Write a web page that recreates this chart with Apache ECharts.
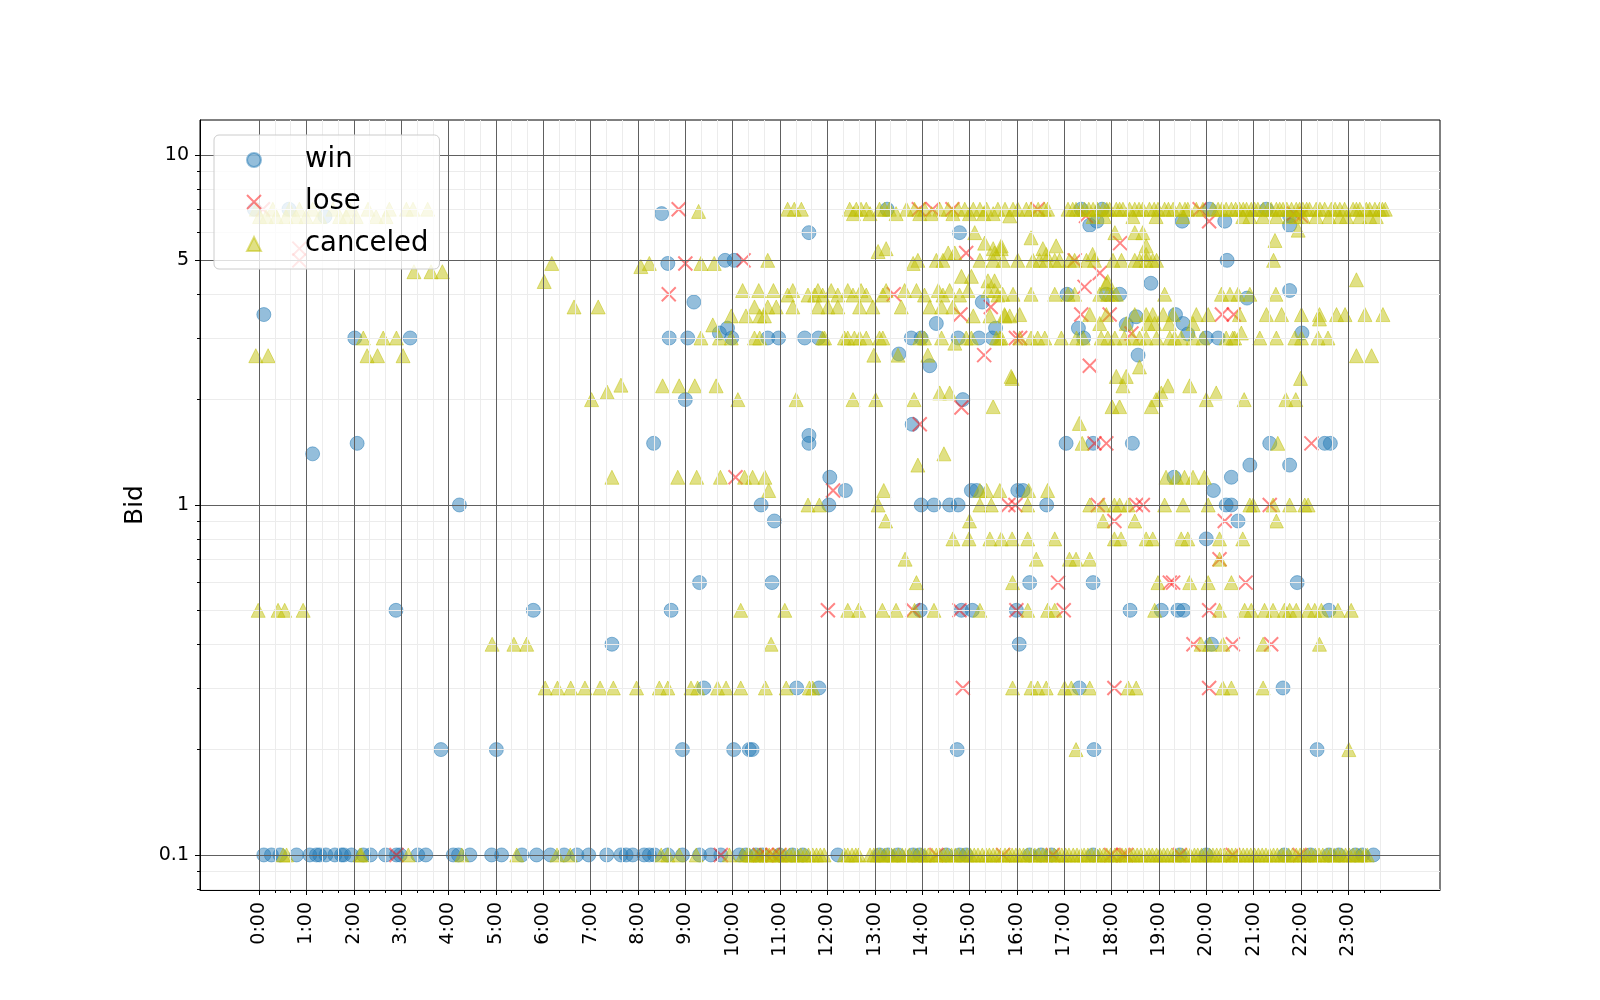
<!DOCTYPE html>
<html>
<head>
<meta charset="utf-8">
<script src="https://cdn.jsdelivr.net/npm/echarts@6/dist/echarts.min.js"></script>
<style>html,body{margin:0;padding:0;background:#fff}#chart{width:1600px;height:1000px}</style>
</head>
<body>
<div id="chart"></div>
<script>
// ---- tick definitions ----
const hourTicks = [0,1,2,3,4,5,6,7,8,9,10,11,12,13,14,15,16,17,18,19,20,21,22,23];
const hourLabels = ['0:00','1:00','2:00','3:00','4:00','5:00','6:00','7:00','8:00','9:00','10:00','11:00',
  '12:00','13:00','14:00','15:00','16:00','17:00','18:00','19:00','20:00','21:00','22:00','23:00'];
const yMajorTicks = [0.1, 1, 5, 10];
const yMinorTicks = [0.08, 0.09, 0.2, 0.3, 0.4, 0.5, 0.6, 0.7, 0.8, 0.9, 2, 3, 4, 6, 7, 8, 9];
const seriesNames = ['win', 'lose', 'canceled'];

// ---- data: [hour of day, bid] ----
const winPts = [
  [-0.1,7.0],[0.63,7.0],[1.39,6.67],[0.1,3.5],[2.02,3.0],[3.19,3.0],[1.13,1.4],[2.07,1.5],[4.23,1.0],
  [2.89,0.5],[5.79,0.5],[7.45,0.4],[3.84,0.2],[5.01,0.2],
  [8.5,6.8],[8.63,4.9],[9.18,3.8],[11.61,6.0],[14.79,6.0],[8.66,3.0],[9.05,3.0],[9.72,3.1],[9.89,3.2],
  [9.98,3.0],[9.84,5.0],[10.03,5.0],[10.74,3.0],[10.97,3.0],[11.52,3.0],[11.81,3.0],[13.77,3.0],[13.98,3.0],
  [14.76,3.0],[15.2,3.0],[15.48,3.0],[15.55,3.2],[15.27,3.8],[14.3,3.3],[13.51,2.7],[14.16,2.5],[9.0,2.0],
  [14.86,2.0],[8.33,1.5],[11.61,1.58],[11.61,1.5],[13.79,1.7],[12.05,1.2],[12.38,1.1],[15.04,1.1],[15.15,1.1],
  [13.26,7.0],[10.6,1.0],[12.03,1.0],[13.98,1.0],[14.25,1.0],[14.58,1.0],[14.76,1.0],[10.88,0.9],
  [9.3,0.6],[10.83,0.6],[8.7,0.5],[13.96,0.5],[14.83,0.5],[15.06,0.5],[15.99,0.5],[16.05,0.4],
  [9.39,0.3],[11.35,0.3],[11.82,0.3],[8.94,0.2],[10.02,0.2],[10.35,0.2],[10.41,0.2],[14.74,0.2],
  [17.36,7.0],[17.8,7.0],[17.54,6.3],[17.69,6.47],[19.49,6.47],[20.07,7.0],[20.39,6.47],[21.27,7.0],
  [21.76,6.3],[21.76,6.7],[20.44,5.0],[18.83,4.3],[21.76,4.1],[17.06,4.0],[17.89,4.0],[18.17,4.0],
  [20.86,3.9],[18.52,3.45],[19.35,3.5],[19.51,3.3],[19.61,3.08],[17.3,3.2],[17.41,3.0],[18.31,3.28],
  [20.0,3.0],[20.25,3.0],[22.02,3.1],[18.56,2.68],[17.04,1.5],[17.61,1.5],[18.44,1.5],[21.34,1.5],
  [22.5,1.5],[22.62,1.5],[20.92,1.3],[21.76,1.3],[19.32,1.2],[20.53,1.2],[20.15,1.1],[16.02,1.1],
  [16.13,1.1],[16.63,1.0],[20.42,1.0],[20.53,1.0],[20.67,0.9],[20.0,0.8],[16.27,0.6],[17.61,0.6],
  [21.92,0.6],[18.39,0.5],[19.05,0.5],[19.4,0.5],[19.52,0.5],[22.59,0.5],[20.11,0.4],[17.32,0.3],
  [21.62,0.3],[17.63,0.2],[22.34,0.2],
  [0.1,0.1],[0.26,0.1],[0.44,0.1],[0.79,0.1],[1.07,0.1],[1.21,0.1],[1.28,0.1],[1.41,0.1],[1.6,0.1],
  [1.74,0.1],[1.79,0.1],[1.95,0.1],[2.2,0.1],[2.35,0.1],[2.67,0.1],[2.9,0.1],[2.98,0.1],[3.35,0.1],
  [3.52,0.1],[4.1,0.1],[4.21,0.1],[4.45,0.1],[4.91,0.1],[5.12,0.1],[5.55,0.1],[5.86,0.1],[6.15,0.1],
  [6.44,0.1],[6.71,0.1],[6.96,0.1],[7.34,0.1],[7.64,0.1],[7.75,0.1],[7.89,0.1],[8.13,0.1],[8.24,0.1],
  [8.35,0.1],[8.63,0.1],[8.94,0.1],[9.3,0.1],[9.54,0.1],[9.75,0.1],[10.14,0.1],[10.28,0.1],[10.49,0.1],
  [10.63,0.1],[10.99,0.1],[11.26,0.1],[11.48,0.1],[12.22,0.1],[13.1,0.1],[13.28,0.1],[13.49,0.1],
  [13.81,0.1],[13.95,0.1],[14.51,0.1],[14.79,0.1],[14.93,0.1],[16.27,0.1],[16.51,0.1],[16.73,0.1],
  [17.61,0.1],[19.44,0.1],[20.0,0.1],[21.65,0.1],[22.2,0.1],[22.59,0.1],[22.8,0.1],[23.15,0.1],
  [23.3,0.1],[23.53,0.1]
];

const losePts = [
  [0.08,7.0],[0.85,5.4],[0.85,5.0],[2.9,0.1],
  [8.86,7.0],[8.65,4.0],[9.0,4.9],[10.23,5.0],[13.4,4.0],[13.93,7.0],[14.22,7.0],[14.64,7.0],[14.93,5.25],
  [14.81,3.5],[15.45,3.68],[15.31,2.68],[15.98,3.0],[16.07,3.0],[14.83,1.9],[13.95,1.7],[10.06,1.2],
  [12.12,1.1],[15.82,1.0],[12.01,0.5],[13.81,0.5],[14.79,0.5],[15.99,0.5],[14.86,0.3],
  [16.44,7.0],[17.46,6.7],[18.18,5.6],[19.86,7.0],[20.06,6.47],[17.22,5.0],[17.75,4.6],[17.43,4.2],
  [17.36,3.5],[17.96,3.5],[20.33,3.5],[20.58,3.5],[18.42,3.09],[17.54,2.5],[17.64,1.5],[17.89,1.5],
  [22.22,1.5],[17.71,1.0],[18.52,1.0],[18.66,1.0],[21.34,1.0],[21.85,6.8],[22.0,6.7],
  [15.97,1.0],[18.06,0.9],[20.39,0.9],[20.28,0.7],[16.87,0.6],[19.23,0.6],[19.3,0.6],[20.83,0.6],
  [16.99,0.5],[20.06,0.5],[19.73,0.4],[20.56,0.4],[21.37,0.4],[18.06,0.3],[20.06,0.3],
  [9.75,0.1],[10.57,0.1],[10.71,0.1],[10.85,0.1],[10.99,0.1],[14.3,0.1],[15.71,0.1],[16.76,0.1],
  [17.99,0.1],[18.24,0.1],[18.31,0.1],[19.44,0.1],[20.56,0.1],[21.97,0.1]
];

const canceledPts = [
  [-0.06,7.0],[0.29,7.0],[0.64,7.0],[0.85,7.0],[1.13,7.0],[1.56,7.0],[1.91,7.0],[2.3,7.0],[2.75,7.0],
  [3.11,7.0],[3.25,7.0],[3.56,7.0],
  [0.01,6.67],[0.15,6.67],[0.36,6.67],[0.57,6.67],[0.78,6.67],[0.99,6.67],[1.28,6.67],[1.7,6.67],
  [1.84,6.67],[2.05,6.67],[2.47,6.67],[2.68,6.67],
  [3.27,4.64],[3.63,4.64],[3.87,4.64],[6.18,4.9],[6.02,4.35],[6.65,3.68],[7.16,3.68],
  [2.2,3.0],[2.62,3.0],[2.9,3.0],[-0.07,2.67],[0.19,2.67],[2.28,2.67],[2.5,2.67],[3.04,2.67],
  [7.02,2.0],[7.35,2.1],[7.64,2.2],[7.45,1.2],
  [-0.02,0.5],[0.4,0.5],[0.54,0.5],[0.93,0.5],[4.92,0.4],[5.38,0.4],[5.65,0.4],
  [6.04,0.3],[6.3,0.3],[6.58,0.3],[6.88,0.3],[7.2,0.3],[7.48,0.3],[7.97,0.3],[8.45,0.3],[8.63,0.3],
  [9.12,0.3],[9.26,0.3],[9.68,0.3],[9.86,0.3],[10.17,0.3],[10.69,0.3],[11.13,0.3],[11.62,0.3],[11.69,0.3],
  [15.91,0.3],
  [0.51,0.1],[0.58,0.1],[2.13,0.1],[2.16,0.1],[3.15,0.1],[4.28,0.1],[5.44,0.1],[6.29,0.1],[6.57,0.1],
  [8.49,0.1],[8.63,0.1],[8.87,0.1],[9.23,0.1],[9.93,0.1],
  [9.28,6.9],[11.16,7.0],[11.3,7.0],[11.45,7.0],[12.47,7.0],[12.55,6.8],[12.61,7.0],[12.71,7.0],[12.82,7.0],
  [12.9,6.8],[13.1,7.0],[13.21,7.0],[13.31,7.0],[13.45,6.8],[13.67,7.0],[13.84,7.0],[13.95,6.8],[14.05,7.0],
  [14.2,6.8],[14.37,7.0],[14.55,7.0],[14.65,6.8],[14.76,7.0],[14.9,7.0],[15.0,6.8],[15.08,7.0],[15.22,7.0],
  [15.3,6.8],[15.36,7.0],[15.5,6.8],[15.6,7.0],[15.75,7.0],[15.85,6.7],
  [8.06,4.8],[8.24,4.9],[9.33,4.9],[9.61,4.9],[10.74,5.0],[13.07,5.3],[13.24,5.4],[13.81,4.9],[13.91,5.0],
  [14.3,5.0],[14.44,5.0],[14.55,5.25],[14.69,5.25],[15.22,5.0],[15.5,5.0],[15.53,5.25],[15.11,6.0],
  [15.32,5.6],[15.5,5.4],[15.67,5.5],[14.83,4.5],[15.04,4.5],[15.39,4.37],[15.53,4.37],
  [10.21,4.1],[10.55,4.1],[10.86,4.1],[11.27,4.1],[11.8,4.1],[12.08,4.1],[12.43,4.1],[12.71,4.1],
  [13.24,4.1],[13.63,4.1],[13.88,4.1],[14.34,4.1],[14.58,4.1],[14.97,4.1],[15.39,4.1],[15.53,4.1],
  [11.16,3.98],[11.59,3.98],[11.73,3.98],[11.9,3.98],[12.22,3.98],[12.54,3.98],[12.82,3.98],[13.17,3.98],
  [14.05,3.98],[14.44,3.98],[14.79,3.98],[15.6,3.98],[15.7,4.0],[15.92,4.0],
  [10.46,3.68],[10.74,3.68],[10.92,3.68],[11.27,3.68],[11.8,3.68],[12.01,3.68],[12.22,3.68],[12.68,3.68],
  [12.96,3.68],[13.56,3.68],[14.16,3.68],[14.41,3.68],[14.65,3.68],
  [9.97,3.47],[10.28,3.47],[10.57,3.47],[10.67,3.47],[15.08,3.47],[15.43,3.47],[15.75,3.47],[15.85,3.47],
  [9.58,3.27],
  [9.33,3.0],[9.72,3.0],[9.97,3.0],[10.46,3.0],[10.57,3.0],[11.9,3.0],[11.94,3.0],[12.36,3.0],[12.43,3.0],
  [12.57,3.0],[12.68,3.0],[12.82,3.0],[13.1,3.0],[13.17,3.0],[13.95,3.0],[14.05,3.0],[14.41,3.0],
  [14.93,3.0],[15.04,3.0],[15.57,3.0],[15.64,3.0],[14.69,2.9],
  [12.98,2.68],[13.49,2.68],[14.12,2.68],
  [8.52,2.19],[8.87,2.19],[9.2,2.19],[9.65,2.19],[15.9,2.3],[14.37,2.09],[14.58,2.09],
  [10.11,2.0],[11.34,2.0],[12.54,2.0],[13.02,2.0],[13.83,2.0],[15.5,1.91],[14.46,1.4],[13.91,1.3],
  [8.84,1.2],[9.24,1.2],[9.74,1.2],[10.25,1.2],[10.42,1.2],[10.68,1.2],[10.76,1.1],
  [13.19,1.1],[15.22,1.1],[15.36,1.1],[15.64,1.1],
  [11.59,1.0],[11.83,1.0],[13.07,1.0],[13.23,0.9],[15.22,1.0],[15.46,1.0],[15.0,0.9],
  [14.65,0.8],[14.99,0.8],[15.43,0.8],[15.67,0.8],[15.9,0.8],[13.64,0.7],[13.88,0.6],[15.91,0.6],
  [10.17,0.5],[11.1,0.5],[12.43,0.5],[12.66,0.5],[13.16,0.5],[13.45,0.5],[13.84,0.5],[14.25,0.5],
  [15.22,0.5],[10.81,0.4],
  [15.92,7.0],[16.02,7.0],[16.2,7.0],[16.3,7.0],[16.45,7.0],[16.58,7.0],[16.65,7.0],[17.08,7.0],
  [17.18,7.0],[17.25,7.0],[17.35,7.0],[17.43,7.0],[17.52,7.0],[17.61,7.0],[17.7,7.0],[17.82,7.0],
  [17.9,7.0],[17.96,7.0],[18.1,7.0],[18.17,7.0],[18.24,7.0],[18.38,7.0],[18.49,7.0],[18.58,7.0],
  [18.66,7.0],[18.8,7.0],[18.9,7.0],[18.98,7.0],[19.12,7.0],[19.2,7.0],[19.3,7.0],[19.44,7.0],
  [19.55,7.0],[19.61,7.0],[19.79,7.0],[19.93,7.0],[20.14,7.0],[20.25,7.0],[20.33,7.0],[20.42,7.0],
  [20.53,7.0],[20.62,7.0],[20.7,7.0],[20.78,7.0],[20.85,7.0],[20.95,7.0],[21.02,7.0],[21.09,7.0],
  [21.2,7.0],[21.3,7.0],[21.37,7.0],[21.48,7.0],[21.55,7.0],[21.62,7.0],[21.7,7.0],[21.8,7.0],
  [21.9,7.0],[21.97,7.0],[22.04,7.0],[22.12,7.0],[22.18,7.0],[22.32,7.0],[22.4,7.0],[22.5,7.0],
  [22.64,7.0],[22.72,7.0],[22.82,7.0],[22.92,7.0],[23.1,7.0],[23.17,7.0],[23.24,7.0],[23.38,7.0],
  [23.45,7.0],[23.56,7.0],[23.66,7.0],[23.72,7.0],[23.78,7.0],
  [17.61,6.67],[17.85,6.67],[18.45,6.67],[18.94,6.67],[19.51,6.67],[20.77,6.67],[20.92,6.67],[21.2,6.67],
  [21.48,6.67],[21.76,6.67],[21.9,6.67],[22.04,6.67],[22.32,6.67],[22.59,6.67],[22.82,6.67],[22.96,6.67],
  [23.24,6.67],[23.45,6.67],[23.59,6.67],
  [16.3,5.8],[16.55,5.4],[16.83,5.5],[18.07,6.0],[18.49,6.0],[18.66,6.0],[18.73,5.5],[21.45,5.7],
  [21.94,6.1],[15.67,5.4],
  [15.71,5.0],[16.02,5.0],[16.34,5.0],[16.48,5.0],[16.62,5.0],[16.8,5.0],[16.9,5.0],[17.11,5.0],
  [17.22,5.0],[17.47,5.0],[17.64,5.0],[18.03,5.0],[18.21,5.0],[18.49,5.0],[18.59,5.0],[18.73,5.0],
  [18.87,5.0],[18.95,5.0],[21.42,5.0],[16.62,5.2],[17.6,5.2],[18.73,5.2],
  [17.92,4.35],[23.17,4.4],
  [16.3,4.0],[16.8,4.0],[17.08,4.0],[17.22,4.0],[17.75,4.0],[17.92,4.0],[18.0,4.0],[18.1,4.0],[19.12,4.0],
  [20.32,4.0],[20.5,4.0],[20.67,4.0],[20.92,4.0],[21.47,4.0],[17.89,4.3],
  [15.74,3.5],[16.06,3.5],[17.54,3.5],[17.89,3.5],[18.49,3.5],[18.73,3.5],[18.87,3.5],[19.09,3.5],
  [19.3,3.5],[19.79,3.5],[20.04,3.5],[20.7,3.5],[21.27,3.5],[21.59,3.5],[22.01,3.5],[22.39,3.5],
  [22.75,3.5],[22.93,3.5],[23.35,3.5],[23.73,3.5],
  [17.75,3.3],[18.31,3.3],[18.77,3.3],[18.91,3.3],[19.22,3.3],[19.72,3.3],[22.39,3.4],
  [15.67,3.0],[16.06,3.0],[16.3,3.0],[16.44,3.0],[16.59,3.0],[16.94,3.0],[17.26,3.0],[17.4,3.0],
  [17.78,3.0],[17.92,3.0],[18.07,3.0],[18.27,3.0],[18.45,3.0],[18.59,3.0],[18.73,3.0],[18.95,3.0],
  [19.23,3.0],[19.33,3.0],[19.47,3.0],[19.72,3.0],[19.93,3.0],[20.42,3.0],[20.56,3.0],[20.6,3.0],
  [20.74,3.1],[21.13,3.0],[21.48,3.0],[21.87,3.0],[22.01,3.0],[22.36,3.0],[22.57,3.0],
  [23.17,2.67],[23.49,2.67],
  [15.88,2.33],[18.1,2.33],[18.31,2.33],[18.59,2.48],[18.24,2.19],[19.19,2.19],[19.65,2.19],[20.21,2.09],
  [19.05,2.09],[18.94,2.0],[18.01,1.91],[18.17,1.91],[18.84,1.91],[20.0,2.0],[20.8,2.0],[21.68,2.0],
  [21.89,2.0],[21.99,2.3],[17.38,1.5],[21.51,1.5],[17.32,1.71],
  [19.15,1.2],[19.37,1.2],[19.54,1.2],[19.72,1.2],[19.96,1.2],[16.25,1.1],[16.65,1.1],
  [16.23,1.0],[17.54,1.0],[17.82,1.0],[18.06,1.0],[18.17,1.0],[18.35,1.0],[19.12,1.0],[19.51,1.0],
  [20.04,1.0],[20.92,1.0],[20.99,1.0],[21.41,1.0],[21.76,1.0],[22.08,1.0],[22.15,1.0],
  [17.82,0.9],[18.49,0.9],[21.48,0.9],
  [16.23,0.8],[16.8,0.8],[18.06,0.8],[18.2,0.8],[18.73,0.8],[18.87,0.8],[19.47,0.8],[19.61,0.8],
  [20.28,0.8],[20.77,0.8],
  [16.41,0.7],[17.11,0.7],[17.25,0.7],[17.54,0.7],[20.28,0.7],
  [18.98,0.6],[19.65,0.6],[20.04,0.6],[20.53,0.6],
  [16.23,0.5],[16.65,0.5],[16.8,0.5],[18.91,0.5],[20.28,0.5],[20.81,0.5],[20.95,0.5],[21.23,0.5],
  [21.41,0.5],[21.65,0.5],[21.76,0.5],[21.9,0.5],[22.15,0.5],[22.29,0.5],[22.43,0.5],[22.78,0.5],[23.06,0.5],
  [19.89,0.4],[20.07,0.4],[20.35,0.4],[21.2,0.4],[22.39,0.4],
  [16.3,0.3],[16.44,0.3],[16.62,0.3],[17.01,0.3],[17.15,0.3],[17.54,0.3],[18.35,0.3],[18.52,0.3],
  [20.35,0.3],[20.53,0.3],[21.2,0.3],
  [17.25,0.2],[23.01,0.2],
  [10.21,0.1],[10.3,0.1],[10.36,0.1],[10.45,0.1],[10.53,0.1],[10.6,0.1],[10.7,0.1],[10.77,0.1],[10.86,0.1],
  [10.95,0.1],[11.02,0.1],[11.11,0.1],[11.2,0.1],[11.27,0.1],[11.36,0.1],[11.44,0.1],[11.52,0.1],[11.6,0.1],
  [11.69,0.1],[11.77,0.1],[11.85,0.1],[11.93,0.1],[12.36,0.1],[12.43,0.1],[12.52,0.1],[12.6,0.1],[12.66,0.1],
  [12.9,0.1],[12.98,0.1],[13.05,0.1],[13.12,0.1],[13.2,0.1],[13.27,0.1],[13.35,0.1],[13.41,0.1],[13.5,0.1],
  [13.58,0.1],[13.66,0.1],[13.73,0.1],[13.82,0.1],[13.9,0.1],[13.98,0.1],[14.06,0.1],[14.13,0.1],[14.21,0.1],
  [14.3,0.1],[14.37,0.1],[14.46,0.1],[14.53,0.1],[14.62,0.1],[14.7,0.1],[14.77,0.1],[14.86,0.1],[14.95,0.1],
  [15.02,0.1],[15.1,0.1],[15.18,0.1],[15.27,0.1],[15.35,0.1],[15.42,0.1],[15.5,0.1],[15.58,0.1],[15.66,0.1],
  [15.75,0.1],[15.83,0.1],[15.9,0.1],[15.98,0.1],[16.06,0.1],[16.14,0.1],[16.22,0.1],[16.31,0.1],[16.38,0.1],
  [16.46,0.1],[16.55,0.1],[16.62,0.1],[16.7,0.1],[16.79,0.1],[16.87,0.1],[16.95,0.1],[17.03,0.1],[17.1,0.1],
  [17.19,0.1],[17.27,0.1],[17.35,0.1],[17.42,0.1],[17.5,0.1],[17.58,0.1],[17.67,0.1],[17.75,0.1],[17.83,0.1],
  [17.9,0.1],[17.98,0.1],[18.07,0.1],[18.15,0.1],[18.22,0.1],[18.3,0.1],[18.39,0.1],[18.46,0.1],[18.54,0.1],
  [18.62,0.1],[18.7,0.1],[18.79,0.1],[18.86,0.1],[18.95,0.1],[19.02,0.1],[19.1,0.1],[19.18,0.1],[19.27,0.1],
  [19.34,0.1],[19.42,0.1],[19.5,0.1],[19.58,0.1],[19.66,0.1],[19.75,0.1],[19.82,0.1],[19.9,0.1],[19.98,0.1],
  [20.07,0.1],[20.14,0.1],[20.22,0.1],[20.3,0.1],[20.38,0.1],[20.47,0.1],[20.54,0.1],[20.62,0.1],[20.7,0.1],
  [20.78,0.1],[20.86,0.1],[20.94,0.1],[21.02,0.1],[21.1,0.1],[21.18,0.1],[21.26,0.1],[21.34,0.1],[21.42,0.1],
  [21.5,0.1],[21.59,0.1],[21.66,0.1],[21.74,0.1],[21.82,0.1],[21.9,0.1],[21.98,0.1],[22.06,0.1],[22.14,0.1],
  [22.22,0.1],[22.3,0.1],[22.38,0.1],[22.46,0.1],[22.55,0.1],[22.62,0.1],[22.7,0.1],[22.78,0.1],[22.86,0.1],
  [22.94,0.1],[23.02,0.1],[23.1,0.1],[23.18,0.1],[23.26,0.1],[23.34,0.1],[23.4,0.1]
];

// 20-minute minor ticks between the hour ticks
const xMinorTicks = [];
hourTicks.forEach(h => { xMinorTicks.push(h + 1/3, h + 2/3); });

const X_MIN = -1.248, X_MAX = 24.935;
const Y_MIN = 0.0794, Y_MAX = 12.59;
const FONT = 'DejaVu Sans';

const chart = echarts.init(document.getElementById('chart'));
chart.setOption({
  animation: false,
  backgroundColor: '#ffffff',
  textStyle: { fontFamily: FONT },
  grid: {
    left: 200, top: 120, right: 160, bottom: 110,
    show: true, borderColor: '#000', borderWidth: 1, backgroundColor: 'transparent',
    containLabel: false, outerBoundsMode: 'none'
  },
  legend: {
    data: seriesNames,
    orient: 'vertical',
    left: 214, top: 135,
    padding: [11, 11, 11, 32],
    itemWidth: 14, itemHeight: 14, itemGap: 14,
    symbolKeepAspect: true,
    selectedMode: false,
    backgroundColor: 'rgba(255,255,255,0.8)',
    borderColor: '#cccccc', borderWidth: 1, borderRadius: 5,
    textStyle: { fontSize: 27.5, color: '#000', fontFamily: FONT, padding: [0, 0, 0, 39] },
    z: 10
  },
  xAxis: [
    {
      type: 'value', min: X_MIN, max: X_MAX, z: 4,
      axisLine: { show: true, onZero: false, lineStyle: { color: '#000', width: 1 } },
      axisTick: { show: true, customValues: hourTicks, length: 5, lineStyle: { color: '#000' } },
      axisLabel: {
        show: true, customValues: hourTicks, rotate: 90, fontSize: 19, color: '#000', margin: 12,
        fontFamily: FONT,
        formatter: v => hourLabels[hourTicks.indexOf(Math.round(v))]
      },
      splitLine: { show: true, lineStyle: { color: '#606060', width: 1 } }
    },
    {
      type: 'value', min: X_MIN, max: X_MAX, position: 'bottom', z: 3,
      axisLine: { show: false, onZero: false },
      axisTick: { show: true, customValues: xMinorTicks, length: 3, lineStyle: { color: '#000' } },
      axisLabel: { show: false },
      splitLine: { show: true, lineStyle: { color: '#ececec', width: 1 } }
    }
  ],
  yAxis: [
    {
      type: 'log', logBase: 10, min: Y_MIN, max: Y_MAX, z: 4,
      name: 'Bid', nameLocation: 'middle', nameGap: 49, nameRotate: 90,
      nameTextStyle: { fontSize: 25, color: '#000', fontFamily: FONT },
      axisLine: { show: true, onZero: false, lineStyle: { color: '#000', width: 1 } },
      axisTick: { show: true, customValues: yMajorTicks, length: 5, lineStyle: { color: '#000' } },
      axisLabel: {
        show: true, customValues: yMajorTicks, fontSize: 19, color: '#000', margin: 11, fontFamily: FONT,
        formatter: v => String(Number(Number(v).toPrecision(3)))
      },
      splitLine: { show: true, lineStyle: { color: '#606060', width: 1 } },
      minorTick: { show: false }, minorSplitLine: { show: false }
    },
    {
      type: 'log', logBase: 10, min: Y_MIN, max: Y_MAX, position: 'left', z: 3,
      axisLine: { show: false, onZero: false },
      axisTick: { show: true, customValues: yMinorTicks, length: 3, lineStyle: { color: '#000' } },
      axisLabel: { show: false },
      splitLine: { show: true, lineStyle: { color: '#ececec', width: 1 } }
    }
  ],
  series: [
    {
      name: 'win', type: 'scatter', data: winPts, symbol: 'circle', symbolSize: 14,
      itemStyle: { color: 'rgba(31,119,180,0.6)', borderColor: 'rgba(31,119,180,0.6)', borderWidth: 1 },
      emphasis: { disabled: true }
    },
    {
      name: 'lose', type: 'scatter', data: losePts, symbol: 'path://M0,0L10,10M10,0L0,10', symbolSize: 14,
      itemStyle: { color: 'rgba(255,0,0,0)', borderColor: 'rgba(255,0,0,0.6)', borderWidth: 2 },
      emphasis: { disabled: true }
    },
    {
      name: 'canceled', type: 'scatter', data: canceledPts, symbol: 'triangle', symbolSize: 14,
      itemStyle: { color: 'rgba(191,191,0,0.6)', borderColor: 'rgba(191,191,0,0.6)', borderWidth: 1 },
      emphasis: { disabled: true }
    }
  ]
});
</script>
</body>
</html>
